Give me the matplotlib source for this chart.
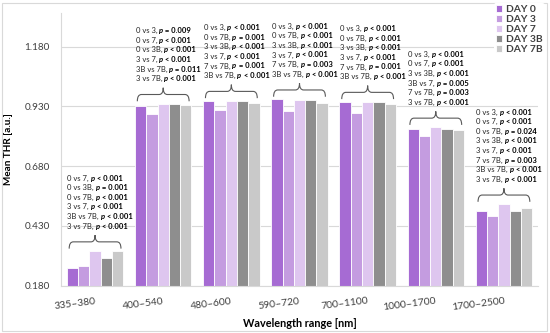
import matplotlib
matplotlib.use("Agg")
import matplotlib.pyplot as plt
import numpy as np
from matplotlib.path import Path
from matplotlib.patches import PathPatch, Rectangle
from matplotlib.offsetbox import TextArea, HPacker, AnnotationBbox

plt.rcParams['font.family'] = ['Lato', 'DejaVu Sans']

categories = ["335–380", "400–540", "480–600", "590–720", "700–1100", "1000–1700", "1700–2500"]
series_names = ["DAY 0", "DAY 3", "DAY 7", "DAY 3B", "DAY 7B"]
day0 = [0.252, 0.933, 0.954, 0.960, 0.950, 0.837, 0.492]
day3 = [0.262, 0.899, 0.914, 0.911, 0.904, 0.805, 0.472]
day7 = [0.323, 0.940, 0.954, 0.955, 0.948, 0.842, 0.520]
day3b = [0.294, 0.941, 0.954, 0.958, 0.950, 0.835, 0.492]
day7b = [0.324, 0.936, 0.944, 0.944, 0.939, 0.832, 0.503]
colors = ["#A66BD3", "#C49CE0", "#DEC6EF", "#8E8E8E", "#C9C9C9"]
yticks = [0.180, 0.430, 0.680, 0.930, 1.180]

# (comparison, sign, value) per line
ann_g1 = [("0 vs 7, ", "<", "0.001"), ("0 vs 3B, ", "=", "0.001"), ("0 vs 7B, ", "<", "0.001"),
          ("3 vs 7, ", "<", "0.001"), ("3B vs 7B, ", "<", "0.001"), ("3 vs 7B, ", "<", "0.001")]
ann_g2 = [("0 vs 3, ", "=", "0.009"), ("0 vs 7, ", "<", "0.001"), ("0 vs 3B, ", "<", "0.001"),
          ("3 vs 7, ", "<", "0.001"), ("3B vs 7B, ", "=", "0.011"), ("3 vs 7B, ", "<", "0.001")]
ann_g3 = [("0 vs 3, ", "<", "0.001"), ("0 vs 7B, ", "=", "0.001"), ("3 vs 3B, ", "<", "0.001"),
          ("3 vs 7, ", "<", "0.001"), ("7 vs 7B, ", "=", "0.001"), ("3B vs 7B, ", "<", "0.001")]
ann_g4 = [("0 vs 3, ", "<", "0.001"), ("0 vs 7B, ", "<", "0.001"), ("3 vs 3B, ", "<", "0.001"),
          ("3 vs 7, ", "<", "0.001"), ("7 vs 7B, ", "=", "0.003"), ("3B vs 7B, ", "<", "0.001")]
ann_g5 = [("0 vs 3, ", "<", "0.001"), ("0 vs 7B, ", "<", "0.001"), ("3 vs 3B, ", "<", "0.001"),
          ("3 vs 7, ", "<", "0.001"), ("7 vs 7B, ", "=", "0.001"), ("3B vs 7B, ", "<", "0.001")]
ann_g6 = [("0 vs 3, ", "<", "0.001"), ("0 vs 7, ", "<", "0.001"), ("3 vs 3B, ", "<", "0.001"),
          ("3B vs 7, ", "=", "0.005"), ("7 vs 7B, ", "=", "0.003"), ("3 vs 7B, ", "<", "0.001")]
ann_g7 = [("0 vs 3, ", "<", "0.001"), ("0 vs 7, ", "<", "0.001"), ("0 vs 7B, ", "=", "0.024"),
          ("3 vs 3B, ", "<", "0.001"), ("3 vs 7, ", "<", "0.001"), ("7 vs 7B, ", "=", "0.003"),
          ("3B vs 7B, ", "<", "0.001"), ("3 vs 7B, ", "<", "0.001")]
annotations = [ann_g1, ann_g2, ann_g3, ann_g4, ann_g5, ann_g6, ann_g7]

series = [day0, day3, day7, day3b, day7b]

fig = plt.figure(figsize=(5.5, 3.33), dpi=100)
ax = fig.add_axes([61/550, 1-285.5/333, (538-61)/550, (285.5-13)/333])

n = len(series)
w = 0.166
x = np.arange(len(categories))
for j, (vals, c, name) in enumerate(zip(series, colors, series_names)):
    ax.bar(x + (j - (n-1)/2) * w, vals, width=w, color=c, edgecolor="white",
           linewidth=0.6, label=name, zorder=2)

ax.set_xlim(-0.5, len(categories) - 0.5)
ax.set_ylim(0.18, 1.321)
ax.set_yticks(yticks)
ax.set_yticklabels([f"{t:.3f}" for t in yticks], fontsize=7.2, color="#404040")
ax.set_xticks(x)
ax.set_xticklabels(categories, rotation=7, ha="right", rotation_mode="anchor",
                   fontsize=7.5, color="#404040")
ax.tick_params(axis="both", length=0)
ax.tick_params(axis="y", pad=8)
ax.tick_params(axis="x", pad=8)
ax.grid(axis="y", color="#D9D9D9", linewidth=0.8, zorder=0)
ax.set_axisbelow(True)
for s in ["top", "right"]:
    ax.spines[s].set_visible(False)
ax.spines["left"].set_color("#D9D9D9")
ax.spines["bottom"].set_color("#D9D9D9")
ax.spines["left"].set_linewidth(0.8)
ax.spines["bottom"].set_linewidth(0.8)

ax.set_ylabel("Mean THR [a.u.]", fontsize=7.2, fontweight="bold", color="#000000", labelpad=8)
ax.set_xlabel("Wavelength range [nm]", fontsize=7.8, fontweight="bold", color="#000000", labelpad=4)

px = (1.321 - 0.18) / (285.5 - 13)  # data units per pixel
fs_ann = 5.5
for i, lines in enumerate(annotations):
    top = max(s[i] for s in series)
    gl = i - n * w / 2
    gr = i + n * w / 2
    yb = top + 2.5 * px
    h = 13.5 * px
    ym = yb + h / 2
    x0, x1 = gl + 0.035, gr - 0.035
    xm = (x0 + x1) / 2
    r = 0.06
    verts = [(x0, yb), (x0, ym), (x0 + r, ym), (xm - r, ym), (xm, ym), (xm, yb + h),
             (xm, ym), (xm + r, ym), (x1 - r, ym), (x1, ym), (x1, yb)]
    codes = [Path.MOVETO, Path.CURVE3, Path.CURVE3, Path.LINETO, Path.CURVE3, Path.CURVE3,
             Path.CURVE3, Path.CURVE3, Path.LINETO, Path.CURVE3, Path.CURVE3]
    ax.add_patch(PathPatch(Path(verts, codes), facecolor="none", edgecolor="#595959",
                           linewidth=0.8, zorder=3))
    tip = yb + h
    nl = len(lines)
    for k, (comp, sign, val) in enumerate(lines):
        parts = [TextArea(comp, textprops=dict(fontsize=fs_ann, color="#262626")),
                 TextArea("p", textprops=dict(fontsize=fs_ann, fontweight="bold", style="italic", color="#000000")),
                 TextArea(f" {sign} {val}", textprops=dict(fontsize=fs_ann, fontweight="bold", color="#000000"))]
        hp = HPacker(children=parts, pad=0, sep=0, align="baseline")
        off = (5.5 + (nl - 1 - k) * 9.6) * 72 / 100
        ab = AnnotationBbox(hp, (gl + 0.01, tip), xybox=(0, off), xycoords="data",
                            boxcoords="offset points", box_alignment=(0, 0), frameon=False,
                            pad=0, annotation_clip=False, zorder=4)
        ax.add_artist(ab)

leg = fig.legend(loc="upper left", bbox_to_anchor=(494/550, 1 - 3/333), frameon=True,
                 fontsize=7.4, handlelength=0.6, handleheight=0.6, handletextpad=0.35,
                 labelspacing=0.1, borderpad=0.2, borderaxespad=0)
leg.get_frame().set_edgecolor("none")
leg.get_frame().set_facecolor("white")
leg.get_frame().set_alpha(1)
for t in leg.get_texts():
    t.set_fontweight("bold")
    t.set_color("#404040")

fig.patches.append(Rectangle((2/550, 2/333), 545/550, 328/333, transform=fig.transFigure,
                             fill=False, edgecolor="#D9D9D9", linewidth=0.8))

fig.savefig("out.png", dpi=100)
